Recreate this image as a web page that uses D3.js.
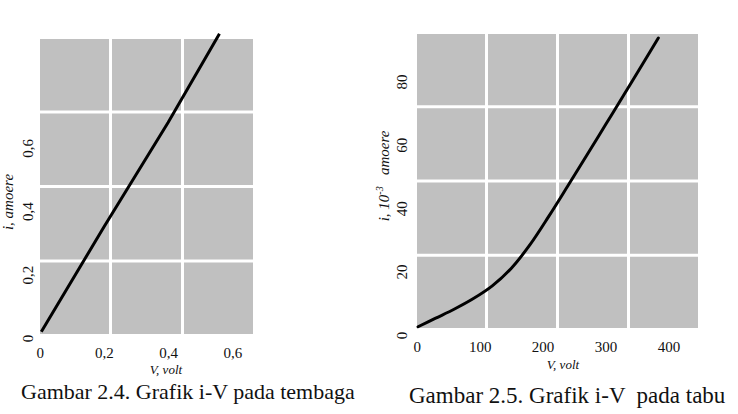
<!DOCTYPE html>
<html lang="id">
<head>
	<meta charset="UTF-8"/>
	<title>Grafik i-V</title>
	<script src="https://d3js.org/d3.v7.min.js"></script>
	<style>
		body { margin:0; background:#fff; }
		svg text { font-family:"Liberation Serif","Times New Roman",serif; fill:#111; }
	</style>
</head>
<body>
<script>

	// Gambar 2.4 - tembaga (copper)
	var cuVolt = [0.005, 0.2, 0.4, 0.56];
	var cuAmp = [0.02, 0.35, 0.68, 0.96];
	var cuTicks = [0, 0.2, 0.4, 0.6];

	// Gambar 2.5 - tabung (tube)
	var tubeVolt = [2, 30, 60, 90, 120, 150, 180, 210, 240, 270, 300, 330, 360, 384];
	var tubeAmp = [2.6, 5.3, 8.2, 11.5, 15.5, 21, 28.5, 37.5, 47, 56.6, 66.3, 76, 85.8, 93.7];
	var tubeXTicks = [0, 100, 200, 300, 400];
	var tubeYTicks = [0, 20, 40, 60, 80];

	var w = 738;
	var h = 414;
	var gap = 3;

	var svg = d3.select("body")
				.append("svg")
				.attr("width", w)
				.attr("height", h);

	function koma(d) {
		return String(d).replace(".", ",");
	}

	// gray panel split into cells with white gaps
	function drawPanel(p) {
		var colScale = d3.scaleBand()
			.domain(d3.range(p.cols))
			.range([p.x0, p.x1])
			.paddingInner(gap / ((p.x1 - p.x0 + gap) / p.cols));
		var rowScale = d3.scaleBand()
			.domain(d3.range(p.rows))
			.range([p.y0, p.y1])
			.paddingInner(gap / ((p.y1 - p.y0 + gap) / p.rows));
		var cells = [];
		d3.range(p.cols).forEach(function(c) {
			d3.range(p.rows).forEach(function(r) { cells.push([c, r]); });
		});
		svg.append("g").selectAll("rect")
			.data(cells)
			.enter()
			.append("rect")
			.attr("x", function(d) { return colScale(d[0]); })
			.attr("y", function(d) { return rowScale(d[1]); })
			.attr("width", colScale.bandwidth())
			.attr("height", rowScale.bandwidth())
			.attr("fill", "#c0c0c0");
	}

	function drawAxes(xScale, yScale, xTicks, yTicks, fmt, xBase, yBase) {
		var xAxis = d3.axisBottom(xScale)
			.tickValues(xTicks)
			.tickFormat(fmt)
			.tickSize(0)
			.tickPadding(0);
		var gx = svg.append("g")
			.attr("transform", "translate(0," + xBase + ")")
			.call(xAxis)
			.attr("font-family", "Liberation Serif")
			.attr("font-size", 15);
		gx.select(".domain").remove();
		gx.selectAll("text")
			.attr("y", 0)
			.attr("dy", 0)
			.attr("fill", "#111");

		var yAxis = d3.axisLeft(yScale)
			.tickValues(yTicks)
			.tickFormat(fmt)
			.tickSize(0)
			.tickPadding(0);
		var gy = svg.append("g")
			.attr("transform", "translate(" + yBase + ",0)")
			.call(yAxis)
			.attr("font-family", "Liberation Serif")
			.attr("font-size", 15);
		gy.select(".domain").remove();
		gy.selectAll("text")
			.attr("x", 0)
			.attr("dy", 0)
			.attr("transform", "rotate(-90)")
			.attr("text-anchor", "middle")
			.attr("fill", "#111");
	}

	// ---------- left chart ----------
	drawPanel({x0:40, x1:253, y0:39, y1:334, cols:3, rows:4});

	var xCu = d3.scaleLinear().domain([0, 0.6]).range([39.7, 232.3]);
	var yCu = d3.scaleLinear().domain([0, 0.6]).range([338, 147.8]);

	drawAxes(xCu, yCu, cuTicks, cuTicks, koma, 358, 33);

	svg.append("path")
		.datum(d3.zip(cuVolt, cuAmp))
		.attr("fill", "none")
		.attr("stroke", "#000")
		.attr("stroke-width", 3)
		.attr("d", d3.line()
			.x(function(d) { return xCu(d[0]); })
			.y(function(d) { return yCu(d[1]); }));

	// ---------- right chart ----------
	drawPanel({x0:417, x1:698, y0:34, y1:328, cols:4, rows:4});

	var xTube = d3.scaleLinear().domain([0, 400]).range([416.8, 668.4]);
	var yTube = d3.scaleLinear().domain([0, 80]).range([335, 81.4]);

	drawAxes(xTube, yTube, tubeXTicks, tubeYTicks, function(d) { return d; }, 352, 407);

	svg.append("path")
		.datum(d3.zip(tubeVolt, tubeAmp))
		.attr("fill", "none")
		.attr("stroke", "#000")
		.attr("stroke-width", 3)
		.attr("stroke-linecap", "round")
		.attr("d", d3.line()
			.curve(d3.curveCatmullRom)
			.x(function(d) { return xTube(d[0]); })
			.y(function(d) { return yTube(d[1]); }));

	// axis titles
	svg.append("text")
		.attr("x", 166).attr("y", 374)
		.style("text-anchor", "middle")
		.style("font-style", "italic")
		.style("font-size", "13px")
		.text("V, volt");

	svg.append("text")
		.attr("x", 563).attr("y", 369)
		.style("text-anchor", "middle")
		.style("font-style", "italic")
		.style("font-size", "13px")
		.text("V, volt");

	svg.append("text")
		.attr("transform", "translate(13,202) rotate(-90)")
		.style("text-anchor", "middle")
		.style("font-style", "italic")
		.style("font-size", "15px")
		.text("i, amoere");

	var yt = svg.append("text")
		.attr("transform", "translate(389,176) rotate(-90)")
		.style("text-anchor", "middle")
		.style("font-style", "italic")
		.style("font-size", "15px")
		.style("white-space", "pre");
	yt.append("tspan").text("i, 10");
	yt.append("tspan").attr("dy", -6).style("font-size", "10px").text("-3");
	yt.append("tspan").attr("dy", 6).text("   amoere");

	// captions
	svg.append("text")
		.attr("x", 21).attr("y", 399)
		.style("font-size", "22px")
		.text("Gambar 2.4. Grafik i-V pada tembaga");

	svg.append("text")
		.attr("x", 409).attr("y", 403)
		.style("font-size", "23px")
		.style("white-space", "pre")
		.text("Gambar 2.5. Grafik i-V  pada tabu");

</script>
</body>
</html>
